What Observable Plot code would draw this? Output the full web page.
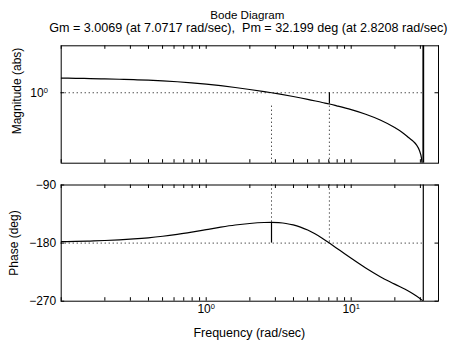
<!DOCTYPE html>
<html>
<head>
<meta charset="utf-8">
<script src="https://cdn.jsdelivr.net/npm/d3@7"></script>
<script src="https://cdn.jsdelivr.net/npm/@observablehq/plot@0.6"></script>
<style>
  html, body { margin: 0; padding: 0; background: #fff; }
  #wrap { position: relative; width: 450px; height: 344px; overflow: hidden; background: #fff; }
  #wrap svg { position: absolute; left: 0; overflow: visible; }
</style>
</head>
<body>
<div id="wrap"></div>
<script>
// ---------------- data ----------------
const freqMag   = [0.1, 0.1259, 0.1585, 0.1995, 0.2512, 0.3162, 0.3981, 0.5012, 0.631, 0.7943, 1, 1.259, 1.585, 1.995, 2.512, 2.8208, 3.162, 3.981, 5.012, 6.31, 7.0717, 7.943, 10, 12.59, 15.85, 19.95, 22.39, 25.12, 26.92, 28.18, 29.51, 30.55, 31.416];
const magValues = [4.217, 4.13, 4.027, 3.908, 3.767, 3.606, 3.42, 3.199, 2.938, 2.642, 2.323, 1.995, 1.679, 1.38, 1.117, 1.0, 0.889, 0.693, 0.526, 0.385, 0.3326, 0.278, 0.1905, 0.1216, 0.0692, 0.0331, 0.0209, 0.01175, 0.00832, 0.00603, 0.00355, 0.00158, 0.0001];

const freqPhase   = [0.1, 0.1259, 0.1585, 0.1995, 0.2512, 0.3162, 0.3981, 0.5012, 0.631, 0.7943, 1, 1.259, 1.585, 1.995, 2.512, 2.8208, 3.162, 3.548, 3.981, 4.467, 5.012, 5.623, 6.31, 7.0717, 7.943, 8.913, 10, 12.59, 15.85, 19.95, 25.12, 28.18, 31.416];
const phaseValues = [-177.8, -177.4, -176.8, -176.0, -175.0, -173.6, -171.8, -169.4, -166.4, -162.9, -159.1, -155.3, -152.0, -149.6, -148.1, -147.8, -148.4, -149.6, -151.8, -155.2, -159.8, -165.6, -172.4, -180.0, -187.9, -195.8, -203.6, -218.6, -232.0, -243.5, -255.0, -262.0, -270.0];

const gainMargin = 3.0069;   // abs
const wcg = 7.0717;          // rad/sec
const phaseMargin = 32.199;  // deg
const wcp = 2.8208;          // rad/sec
const nyquist = 31.416;      // rad/sec

const freqDomain  = [0.1, 40];
const magDomain   = [1e-3, 1e2];
const phaseDomain = [-270, -90];

const xMajorTicks = [1, 10];
const xAllTicks   = [0.1, 0.2, 0.3, 0.4, 0.5, 0.6, 0.7, 0.8, 0.9, 1, 2, 3, 4, 5, 6, 7, 8, 9, 10, 20, 30, 40];
const magTicks    = [1];
const phaseTicks  = [-90, -180, -270];

const titleText    = "Bode Diagram";
const subtitleText = `Gm = ${gainMargin.toFixed(4)} (at ${wcg.toFixed(4)} rad/sec),  Pm = ${phaseMargin.toFixed(3)} deg (at ${wcp.toFixed(4)} rad/sec)`;
const magLabel   = "Magnitude (abs)";
const phaseLabel = "Phase (deg)";
const freqLabel  = "Frequency (rad/sec)";

// ---------------- layout ----------------
const W = 450, mL = 60.7, mR = 12, TICK = 3.5;
const innerW = W - mL - mR;
const font = "'Liberation Sans', Arial, Helvetica, sans-serif";
const style = {fontFamily: font, fontSize: "12px", color: "#000", background: "transparent", overflow: "visible"};

const magData = freqMag.map((f, i) => ({f, v: magValues[i]}));
const phaseData = freqPhase.map((f, i) => ({f, v: phaseValues[i]}));
const dots = {stroke: "#000", strokeDasharray: "1,3", strokeWidth: 1};

function sup(svg) {
  d3.select(svg).selectAll("text").each(function () {
    const m = /^10\^(.+)$/.exec(this.textContent);
    if (m) {
      const s = d3.select(this);
      s.text("10");
      s.append("tspan").attr("dy", "-0.5em").attr("font-size", "7.5px").text(m[1]);
    }
  });
}

const wrap = document.getElementById("wrap");

// ---- magnitude panel ----
const magH = 130, magMT = 5.3, magMB = 7.3, magInner = magH - magMT - magMB;
const magPlot = Plot.plot({
  width: W, height: magH,
  marginLeft: mL, marginRight: mR, marginTop: magMT, marginBottom: magMB,
  style,
  x: {type: "log", domain: freqDomain, axis: null},
  y: {type: "log", domain: magDomain, axis: null},
  marks: [
    Plot.ruleY([1], {x1: freqDomain[0], x2: nyquist, ...dots}),
    Plot.ruleX([wcp, wcg], {y1: magDomain[0], y2: 1 / gainMargin, ...dots}),
    Plot.ruleX([wcg], {y1: 1, y2: 1 / gainMargin, stroke: "#000", strokeWidth: 1.2}),
    Plot.line(magData, {x: "f", y: "v", curve: "monotone-x", stroke: "#000", strokeWidth: 1.2, clip: true}),
    Plot.ruleX([nyquist], {stroke: "#000", strokeWidth: 1.8}),
    Plot.ruleX(xAllTicks, {insetTop: magInner - TICK, stroke: "#000"}),
    Plot.ruleX(xAllTicks, {insetBottom: magInner - TICK, stroke: "#000"}),
    Plot.ruleY(magTicks, {insetRight: innerW - TICK, stroke: "#000"}),
    Plot.ruleY(magTicks, {insetLeft: innerW - TICK, stroke: "#000"}),
    Plot.frame({stroke: "#000"}),
    Plot.text(magTicks, {y: d => d, frameAnchor: "left", dx: -13.4, textAnchor: "end", lineAnchor: "middle",
      text: d => "10^" + Math.round(Math.log10(d)), fill: "#000"})
  ]
});
sup(magPlot);
magPlot.style.top = "40px";
wrap.appendChild(magPlot);

// ---- phase panel ----
const phH = 169, phMT = 9.5, phMB = 43.3, phInner = phH - phMT - phMB;
const phasePlot = Plot.plot({
  width: W, height: phH,
  marginLeft: mL, marginRight: mR, marginTop: phMT, marginBottom: phMB,
  style,
  x: {type: "log", domain: freqDomain, axis: null},
  y: {type: "linear", domain: phaseDomain, axis: null},
  marks: [
    Plot.ruleY([-180], {x1: freqDomain[0], x2: nyquist, ...dots}),
    Plot.ruleX([wcp, wcg], {y1: phaseDomain[1], y2: -180, ...dots}),
    Plot.ruleX([wcp], {y1: -180, y2: -180 + phaseMargin, stroke: "#000", strokeWidth: 1.2}),
    Plot.line(phaseData, {x: "f", y: "v", curve: "monotone-x", stroke: "#000", strokeWidth: 1.2, clip: true}),
    Plot.ruleX([nyquist], {stroke: "#000", strokeWidth: 1.2}),
    Plot.ruleX(xAllTicks, {insetTop: phInner - TICK, stroke: "#000"}),
    Plot.ruleX(xAllTicks, {insetBottom: phInner - TICK, stroke: "#000"}),
    Plot.ruleY(phaseTicks, {insetRight: innerW - TICK, stroke: "#000"}),
    Plot.ruleY(phaseTicks, {insetLeft: innerW - TICK, stroke: "#000"}),
    Plot.frame({stroke: "#000"}),
    Plot.text(phaseTicks, {y: d => d, frameAnchor: "left", dx: -5, textAnchor: "end", lineAnchor: "middle",
      text: d => String(d).replace("-", "\u2212"), fill: "#000"}),
    Plot.text(xMajorTicks, {x: d => d, frameAnchor: "bottom", dy: 12, textAnchor: "middle", lineAnchor: "bottom",
      text: d => "10^" + Math.round(Math.log10(d)), fill: "#000"})
  ]
});
sup(phasePlot);
phasePlot.style.top = "175px";
wrap.appendChild(phasePlot);

// ---- titles & axis labels ----
const ov = d3.select(wrap).append("svg")
  .attr("width", W).attr("height", 344)
  .style("top", "0px").style("pointer-events", "none").style("white-space", "pre")
  .attr("font-family", font).attr("font-size", 12).attr("fill", "#000");
const cx = mL + innerW / 2;
ov.append("text").attr("x", cx - 2).attr("y", 19).attr("font-size", 11.6).attr("text-anchor", "middle").text(titleText);
ov.append("text").attr("x", 248.3).attr("y", 31.5).attr("font-size", 12.6).attr("text-anchor", "middle").attr("xml:space", "preserve").text(subtitleText);
ov.append("text").attr("transform", "translate(21,91) rotate(-90)").attr("text-anchor", "middle").text(magLabel);
ov.append("text").attr("transform", "translate(17.5,243) rotate(-90)").attr("text-anchor", "middle").text(phaseLabel);
ov.append("text").attr("x", cx).attr("y", 337).attr("font-size", 12.5).attr("text-anchor", "middle").text(freqLabel);
</script>
</body>
</html>
